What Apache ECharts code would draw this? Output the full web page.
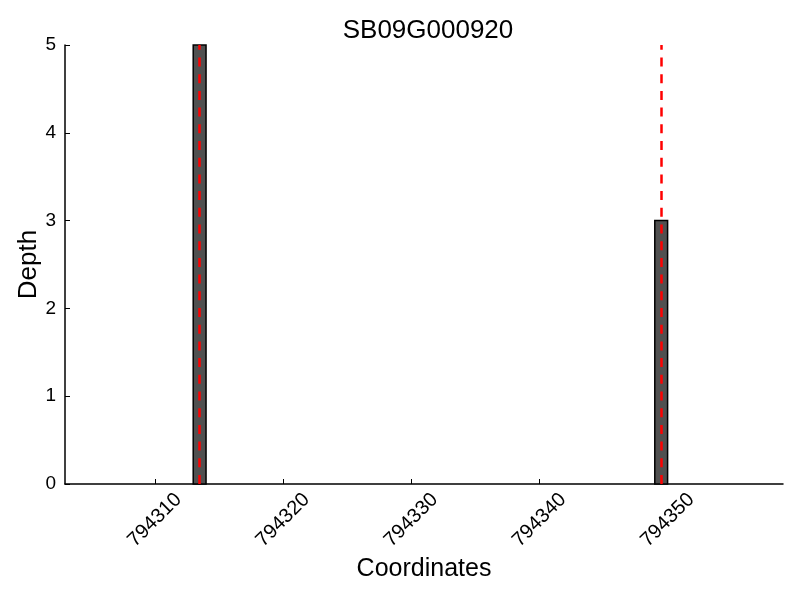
<!DOCTYPE html>
<html><head><meta charset="utf-8">
<script src="https://cdn.jsdelivr.net/npm/echarts@6/dist/echarts.min.js"></script>
<style>html,body{margin:0;padding:0;background:#fff}#c{width:800px;height:600px}</style>
</head><body><div id="c"></div>
<script>
var titleText = "SB09G000920";
var barStarts = [794313, 794349];
var barEnds = [794314, 794350];
var depths = [5, 3];
var markPositions = [794313.5, 794349.5];
var xTicks = [794310, 794320, 794330, 794340, 794350];
var yTicks = [0, 1, 2, 3, 4, 5];

var font = "Liberation Sans, Arial, Helvetica, sans-serif";
var barData = barStarts.map(function (s, i) { return [s, barEnds[i], depths[i]]; });

var chart = echarts.init(document.getElementById('c'), null, {renderer: 'canvas'});
chart.setOption({
  animation: false,
  backgroundColor: '#fff',
  title: {text: titleText, left: 423, top: 13, textAlign: 'center',
    textStyle: {fontFamily: font, fontSize: 26, fontWeight: 'normal', color: '#000'}},
  grid: {left: 65, right: 17, top: 45, bottom: 116, containLabel: false},
  xAxis: {
    type: 'value', min: 794303, max: 794359,
    name: 'Coordinates', nameLocation: 'middle', nameGap: 73, nameMoveOverlap: false,
    nameTextStyle: {fontFamily: font, fontSize: 25, color: '#000'},
    axisLine: {show: true, lineStyle: {color: '#000', width: 1.5}},
    axisTick: {show: true, inside: true, length: 5, customValues: xTicks, lineStyle: {color: '#000'}},
    axisLabel: {customValues: xTicks, rotate: 45, align: 'center', verticalAlign: 'middle',
      fontFamily: font, fontSize: 20, color: '#000', margin: 36,
      formatter: function (v) { return String(v); }},
    splitLine: {show: false}
  },
  yAxis: {
    type: 'value', min: 0, max: 5, interval: 1,
    name: 'Depth', nameLocation: 'middle', nameGap: 23, nameMoveOverlap: false,
    nameTextStyle: {fontFamily: font, fontSize: 26, color: '#000'},
    axisLine: {show: true, lineStyle: {color: '#000', width: 1.5}},
    axisTick: {show: true, inside: true, length: 5, customValues: yTicks, lineStyle: {color: '#000'}},
    axisLabel: {customValues: yTicks, fontFamily: font, fontSize: 19, color: '#000', margin: 9},
    splitLine: {show: false}
  },
  series: [{
    type: 'custom',
    data: barData,
    encode: {x: [0, 1], y: 2},
    renderItem: function (params, api) {
      var p0 = api.coord([api.value(0), api.value(2)]);
      var p1 = api.coord([api.value(1), 0]);
      return {type: 'rect',
        shape: {x: p0[0], y: p0[1], width: p1[0] - p0[0], height: p1[1] - p0[1]},
        style: {fill: '#505050', stroke: '#000', lineWidth: 1.5}};
    },
    z: 2
  }, {
    type: 'line', data: [], z: 3,
    markLine: {
      silent: true, symbol: ['none', 'none'], label: {show: false},
      lineStyle: {color: '#ff0000', type: [9, 7.7], width: 2.5},
      data: markPositions.map(function (x) { return {xAxis: x}; })
    }
  }]
});
</script></body></html>
